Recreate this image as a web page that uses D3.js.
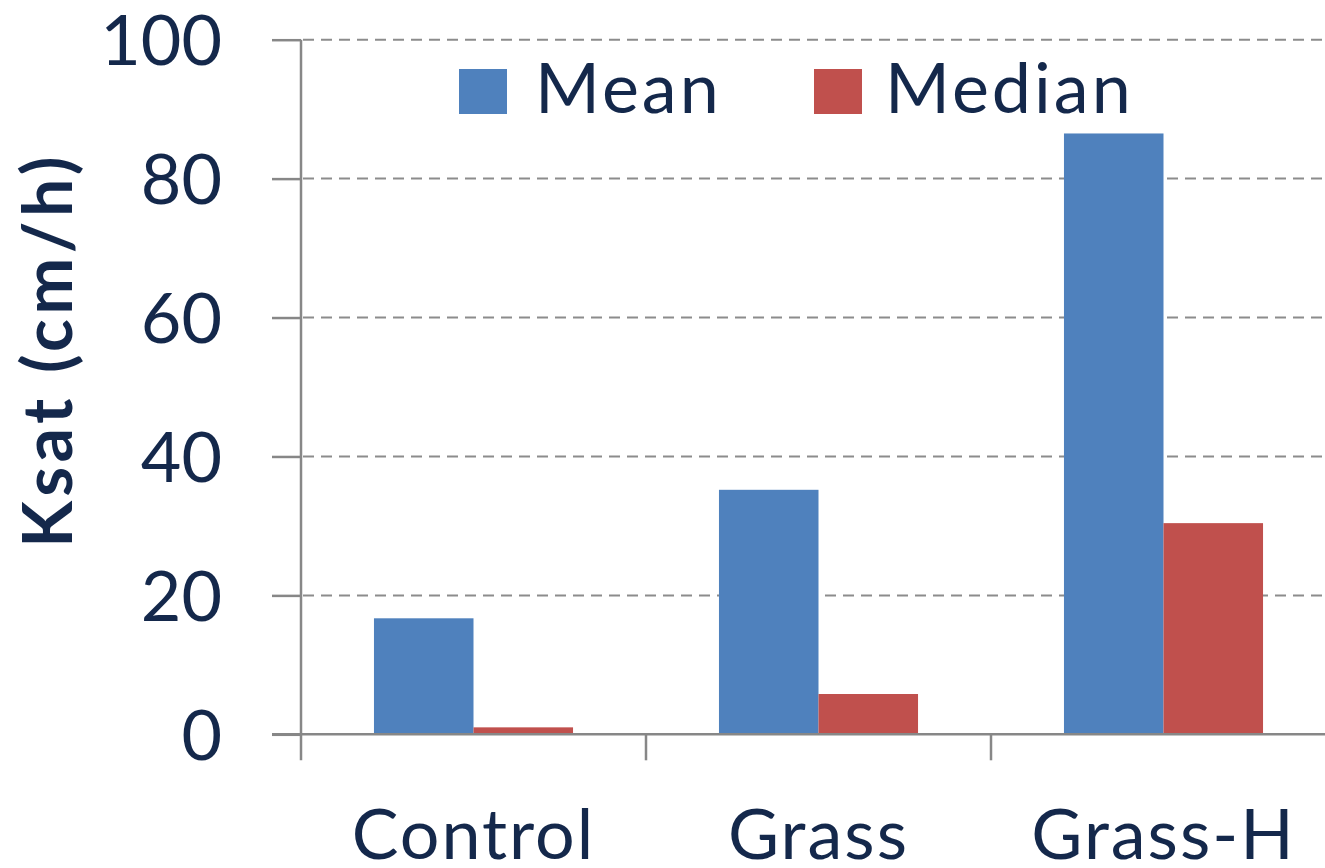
<!DOCTYPE html>
<html>
<head>
<meta charset="utf-8">
<script src="https://cdn.jsdelivr.net/npm/d3@7"></script>
<style>
  html, body { margin: 0; padding: 0; background: #ffffff; overflow: hidden; }
  svg { display: block; }
  text { font-family: Lato, "Noto Sans", sans-serif; fill: #14284b; }
</style>
</head>
<body>
<svg id="chart" width="1325" height="868"></svg>
<script>
// Saturated hydraulic conductivity by treatment
const categories = ["Control", "Grass", "Grass-H"];
const seriesNames = ["Mean", "Median"];
const meanValues = [16.7, 35.2, 86.5];
const medianValues = [1.0, 5.8, 30.4];
const yTicks = [0, 20, 40, 60, 80, 100];
const yLabel = "Ksat (cm/h)";

const seriesColors = ["#4f81bd", "#c0504d"];
const seriesValues = [meanValues, medianValues];

const svg = d3.select("#chart");

const plot = { left: 301, top: 39.7, bottom: 734.3, band: 345 };
const axisColor = "#878787";

const y = d3.scaleLinear().domain([0, 100]).range([plot.bottom, plot.top]);
const x0 = d3.scaleBand()
  .domain(categories)
  .range([plot.left, plot.left + plot.band * categories.length])
  .padding(0);
// two bars per group with the gap split evenly on both sides
const gapFrac = 0.2115;
const x1 = d3.scaleBand()
  .domain(seriesNames)
  .range([x0.bandwidth() * gapFrac, x0.bandwidth() * (1 - gapFrac)])
  .padding(0);

// dashed horizontal gridlines
svg.append("g")
  .selectAll("line")
  .data(yTicks.filter(d => d > 0))
  .join("line")
  .attr("x1", plot.left + 2)
  .attr("x2", 1340)
  .attr("y1", d => y(d))
  .attr("y2", d => y(d))
  .attr("stroke", "#8c8c8c")
  .attr("stroke-width", 2)
  .attr("stroke-dasharray", "11,7");

// bars
const groups = svg.append("g")
  .selectAll("g")
  .data(categories)
  .join("g")
  .attr("transform", d => `translate(${x0(d)},0)`);

groups.selectAll("rect")
  .data((d, i) => seriesNames.map((s, k) => ({ s, k, v: seriesValues[k][i] })))
  .join("rect")
  .attr("x", d => x1(d.s))
  .attr("width", x1.bandwidth())
  .attr("y", d => y(d.v))
  .attr("height", d => y(0) - y(d.v))
  .attr("fill", d => seriesColors[d.k]);

// y axis with outward ticks
const yAxis = d3.axisLeft(y).tickValues(yTicks).tickSize(29).tickPadding(0).tickFormat(d3.format("d"));
const gy = svg.append("g").attr("transform", `translate(${plot.left},0)`).call(yAxis);
gy.select(".domain").remove();
gy.selectAll(".tick line").attr("stroke", axisColor).attr("stroke-width", 2.5);
gy.selectAll(".tick text")
  .attr("x", -79)
  .attr("dy", "0.36em")
  .style("font-size", "70px")
  .style("font-family", "Lato, 'Noto Sans', sans-serif")
  .attr("fill", "#14284b");
svg.append("line")
  .attr("x1", plot.left).attr("x2", plot.left)
  .attr("y1", plot.top).attr("y2", plot.bottom + 26)
  .attr("stroke", axisColor).attr("stroke-width", 2.5);

// x axis: line plus ticks at group boundaries
svg.append("line")
  .attr("x1", plot.left - 29).attr("x2", 1340)
  .attr("y1", plot.bottom).attr("y2", plot.bottom)
  .attr("stroke", axisColor).attr("stroke-width", 2.5);
const boundaries = categories.map(c => x0(c) + x0.bandwidth());
svg.append("g")
  .selectAll("line")
  .data(boundaries)
  .join("line")
  .attr("x1", d => d).attr("x2", d => d)
  .attr("y1", plot.bottom).attr("y2", plot.bottom + 26)
  .attr("stroke", axisColor).attr("stroke-width", 2.5);

svg.append("g")
  .selectAll("text")
  .data(categories)
  .join("text")
  .attr("x", d => x0(d) + x0.bandwidth() / 2)
  .attr("y", 859)
  .attr("text-anchor", "middle")
  .style("font-size", "70px")
  .style("letter-spacing", "2px")
  .text(d => d);

// y axis title
svg.append("text")
  .attr("transform", "translate(72,350) rotate(-90)")
  .attr("text-anchor", "middle")
  .style("font-size", "68px")
  .style("font-weight", "bold")
  .style("letter-spacing", "4.5px")
  .text(yLabel);

// legend
const legendItems = [
  { name: seriesNames[0], color: seriesColors[0], x: 459, tx: 76 },
  { name: seriesNames[1], color: seriesColors[1], x: 814, tx: 71 }
];
const lg = svg.append("g").selectAll("g").data(legendItems).join("g")
  .attr("transform", d => `translate(${d.x},69)`);
lg.append("rect").attr("width", 48).attr("height", 45).attr("fill", d => d.color);
lg.append("text")
  .attr("x", d => d.tx)
  .attr("y", 44)
  .style("font-size", "70px")
  .style("letter-spacing", "3px")
  .text(d => d.name);
</script>
</body>
</html>
